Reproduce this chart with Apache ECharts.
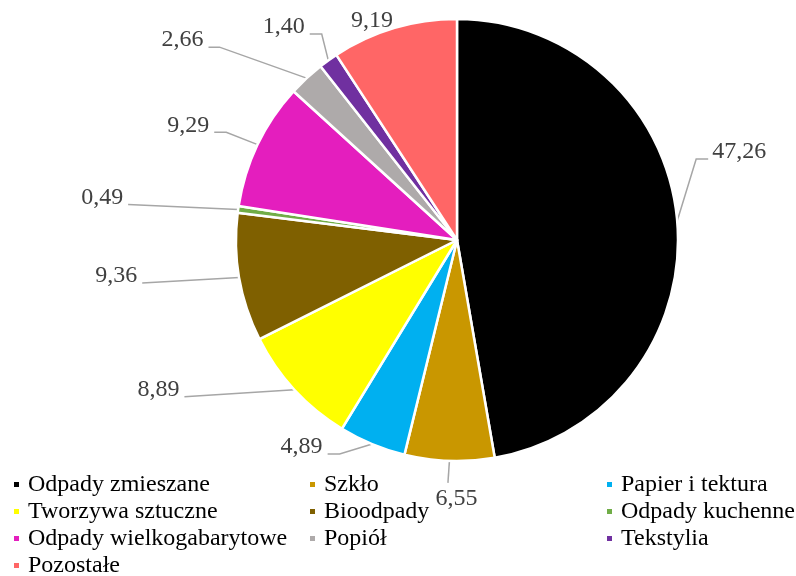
<!DOCTYPE html>
<html><head><meta charset="utf-8">
<script src="https://cdn.jsdelivr.net/npm/echarts@6/dist/echarts.min.js"></script>
<style>html,body{margin:0;padding:0;background:#fff}#c{width:796px;height:576px}</style>
</head><body><div id="c"></div>
<script>
const categories = ["Odpady zmieszane","Szkło","Papier i tektura","Tworzywa sztuczne","Bioodpady","Odpady kuchenne","Odpady wielkogabarytowe","Popiół","Tekstylia","Pozostałe"];
const values = [47.26,6.55,4.89,8.89,9.36,0.49,9.29,2.66,1.40,9.19];
const colors = ["#000000","#C99700","#00B0F0","#FFFF00","#7F6000","#70AD47","#E41EBE","#AEAAAA","#7030A0","#FF6666"];
const legendCols = [
  ["Odpady zmieszane","Tworzywa sztuczne","Odpady wielkogabarytowe","Pozostałe"],
  ["Szkło","Bioodpady","Popiół"],
  ["Papier i tektura","Odpady kuchenne","Tekstylia"]
];
// label leader-line style per slice: bend offset from slice edge anchor, horizontal tail length (signed), label mode
const leaderStyle = [
  {bend:[19,-62], tail:12},
  {bend:[-1.5,22], tail:0, below:true},
  {bend:[-32.6,9.8], tail:-12},
  {bend:[-110,7], tail:0},
  {bend:[-97,5.4], tail:0},
  {bend:[-110,-4.8], tail:0},
  {bend:[-31.4,-12.3], tail:-12},
  {bend:[-87,-31], tail:-11},
  {bend:[-6.6,-26.3], tail:-12},
  {bend:[0,0], tail:0, noLine:true}
];
const font = "'Liberation Serif','Times New Roman',serif";
const chart = echarts.init(document.getElementById('c'));
const legendX = [12, 308, 605];
chart.setOption({
  animation:false,
  color: colors,
  legend: legendCols.map((d,i)=>({
    data:d, orient:'vertical', left:legendX[i], top:471, height:120, padding:0, icon:'rect',
    itemWidth:7, itemHeight:7, itemGap:0,
    textStyle:{fontFamily:font, fontSize:24, color:'#000', lineHeight:27, padding:[0,0,0,3]}
  })),
  series:[{
    type:'pie', center:[457,240], radius:[0,221], startAngle:90, clockwise:true,
    avoidLabelOverlap:false,
    data: categories.map((n,i)=>({name:n, value:values[i]})),
    itemStyle:{borderColor:'#fff', borderWidth:2.5},
    label:{show:true, formatter:p=>p.value.toFixed(2).replace('.',','), fontFamily:font, fontSize:24, color:'#404040'},
    labelLine:{show:true, length:20, length2:20, lineStyle:{color:'#A6A6A6', width:1.5}},
    labelLayout: function(params){
      const s = leaderStyle[params.dataIndex];
      const a = params.labelLinePoints[0];
      const b = [a[0]+s.bend[0], a[1]+s.bend[1]];
      const e = [b[0]+s.tail, b[1]];
      if (s.noLine) {
        return {x:a[0]-1, y:a[1]-7, align:'right', verticalAlign:'middle', labelLinePoints:[a,a,a]};
      }
      if (s.below) {
        return {x:b[0]+8.5, y:b[1]+15.5, align:'center', verticalAlign:'middle', labelLinePoints:[a,b,e]};
      }
      const left = (s.tail<0) || (s.tail===0 && s.bend[0]<0);
      return {x: e[0] + (left?-5:4), y: e[1]-7, align: left?'right':'left', verticalAlign:'middle', labelLinePoints:[a,b,e]};
    }
  }]
});
</script></body></html>
